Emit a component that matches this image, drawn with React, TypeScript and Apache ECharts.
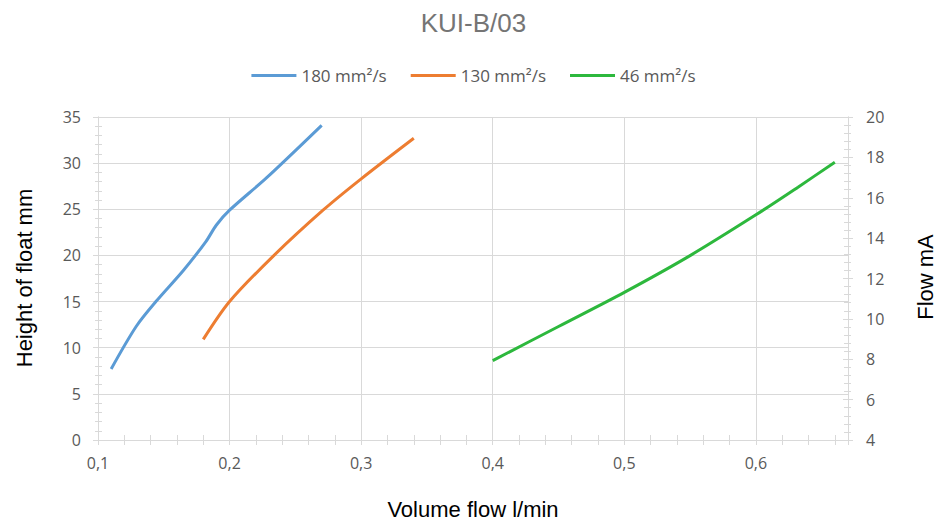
import React, { useEffect, useRef } from "react";
import * as echarts from "echarts";

const titleText = "KUI-B/03";
const seriesNames = ["180 mm²/s", "130 mm²/s", "46 mm²/s"];
const seriesColors = ["#5B9BD5", "#ED7D31", "#2DB83D"];

const blue: [number, number][] = [
  [0.11, 7.7], [0.129, 12.3], [0.144, 15.0], [0.165, 18.4], [0.182, 21.5],
  [0.19, 23.3], [0.2, 24.9], [0.228, 28.4], [0.27, 34.1],
];
const orange: [number, number][] = [
  [0.18, 10.9], [0.2, 15.0], [0.233, 19.9], [0.271, 24.9], [0.3, 28.3], [0.34, 32.7],
];
const green: [number, number][] = [
  [0.4, 8.6], [0.45, 12.3], [0.5, 16.0], [0.549, 19.9], [0.6, 24.4], [0.632, 27.4], [0.66, 30.1],
];

const xMin = 0.1, xMax = 0.67, xStep = 0.1;
const yMin = 0, yMax = 35, yStep = 5;
const y2Min = 4, y2Max = 20, y2Step = 2;

const xName = "Volume flow l/min";
const yName = "Height of float mm";
const y2Name = "Flow mA";

const FONT = "Liberation Sans, Arial, sans-serif";
const TICKFONT = "Open Sans, Noto Sans, sans-serif";
const GRID = "#d9d9d9";
const LABEL = "#595959";

export default function App() {
  const ref = useRef<HTMLDivElement>(null);
  useEffect(() => {
    if (!ref.current) return;
    const chart = echarts.init(ref.current, undefined, { renderer: "svg" });
    const lineStyleFor = (i: number) => ({ color: seriesColors[i], width: 3 });
    const baseX = {
      type: "value",
      min: xMin,
      max: xMax,
      interval: xStep,
      axisLine: { show: true, lineStyle: { color: GRID, width: 1 } },
    };
    const baseY = {
      type: "value",
      min: yMin,
      max: yMax,
      interval: yStep,
      axisLine: { show: true, lineStyle: { color: GRID, width: 1 } },
    };
    const baseY2 = {
      type: "value",
      min: y2Min,
      max: y2Max,
      interval: y2Step,
      position: "right",
      axisLine: { show: true, lineStyle: { color: GRID, width: 1 } },
    };
    const tickText = { fontFamily: TICKFONT, fontSize: 16, color: LABEL };
    chart.setOption({
      animation: false,
      backgroundColor: "#ffffff",
      title: {
        text: titleText,
        left: "center",
        top: 5,
        textStyle: { fontFamily: FONT, fontSize: 26, fontWeight: "normal", color: "#757575" },
      },
      legend: {
        top: 62,
        left: "center",
        itemWidth: 45,
        itemHeight: 3,
        itemGap: 24,
        icon: "rect",
        textStyle: { fontFamily: TICKFONT, fontSize: 17, color: LABEL },
        data: seriesNames,
      },
      grid: { left: 98, right: 99, top: 117, bottom: 85 },
      xAxis: [
        {
          ...baseX,
          name: xName,
          nameLocation: "middle",
          nameGap: 58,
          nameTextStyle: { fontFamily: FONT, fontSize: 22, color: "#000" },
          axisTick: { show: true, length: 5, lineStyle: { color: GRID } },
          minorTick: { show: true, splitNumber: 5, length: 5, lineStyle: { color: GRID } },
          axisLabel: {
            ...tickText,
            margin: 15,
            showMaxLabel: false,
            formatter: (v: number) => v.toFixed(1).replace(".", ","),
          },
          splitLine: { show: true, lineStyle: { color: GRID, width: 1 } },
        },
        {
          ...baseX,
          position: "bottom",
          axisTick: { show: true, inside: true, length: 5, lineStyle: { color: GRID } },
          minorTick: { show: true, splitNumber: 5, length: 5, lineStyle: { color: GRID } },
          axisLabel: { show: false },
          splitLine: { show: false },
        },
      ],
      yAxis: [
        {
          ...baseY,
          position: "left",
          axisTick: { show: true, length: 5, lineStyle: { color: GRID } },
          minorTick: { show: true, splitNumber: 5, length: 3, lineStyle: { color: GRID } },
          axisLabel: { ...tickText, margin: 17 },
          splitLine: { show: true, lineStyle: { color: GRID, width: 1 } },
        },
        {
          ...baseY2,
          axisTick: { show: true, length: 5, lineStyle: { color: GRID } },
          minorTick: { show: true, splitNumber: 5, length: 3, lineStyle: { color: GRID } },
          axisLabel: { ...tickText, margin: 18 },
          splitLine: { show: false },
        },
        {
          ...baseY,
          position: "left",
          axisTick: { show: true, inside: true, length: 4, lineStyle: { color: GRID } },
          minorTick: { show: true, splitNumber: 5, length: 4, lineStyle: { color: GRID } },
          axisLabel: { show: false },
          splitLine: { show: false },
        },
        {
          ...baseY2,
          axisTick: { show: true, inside: true, length: 5, lineStyle: { color: GRID } },
          minorTick: { show: true, splitNumber: 5, length: 4, lineStyle: { color: GRID } },
          axisLabel: { show: false },
          splitLine: { show: false },
        },
      ],
      graphic: [
        {
          type: "text",
          x: 24,
          y: 278,
          rotation: Math.PI / 2,
          style: {
            text: yName,
            fontFamily: FONT,
            fontSize: 22,
            fill: "#000",
            align: "center",
            verticalAlign: "middle",
          },
        },
        {
          type: "text",
          x: 925,
          y: 277,
          rotation: Math.PI / 2,
          style: {
            text: y2Name,
            fontFamily: FONT,
            fontSize: 22,
            fill: "#000",
            align: "center",
            verticalAlign: "middle",
          },
        },
      ],
      series: [
        { name: seriesNames[0], type: "line", data: blue, smooth: 0.3, showSymbol: false, symbol: "none", itemStyle: { color: seriesColors[0] }, lineStyle: lineStyleFor(0) },
        { name: seriesNames[1], type: "line", data: orange, smooth: 0.3, showSymbol: false, symbol: "none", itemStyle: { color: seriesColors[1] }, lineStyle: lineStyleFor(1) },
        { name: seriesNames[2], type: "line", data: green, smooth: 0.3, showSymbol: false, symbol: "none", itemStyle: { color: seriesColors[2] }, lineStyle: lineStyleFor(2) },
      ],
    });
    return () => chart.dispose();
  }, []);
  return <div ref={ref} style={{ width: 947, height: 525, position: "fixed", left: 0, top: 0 }} />;
}
